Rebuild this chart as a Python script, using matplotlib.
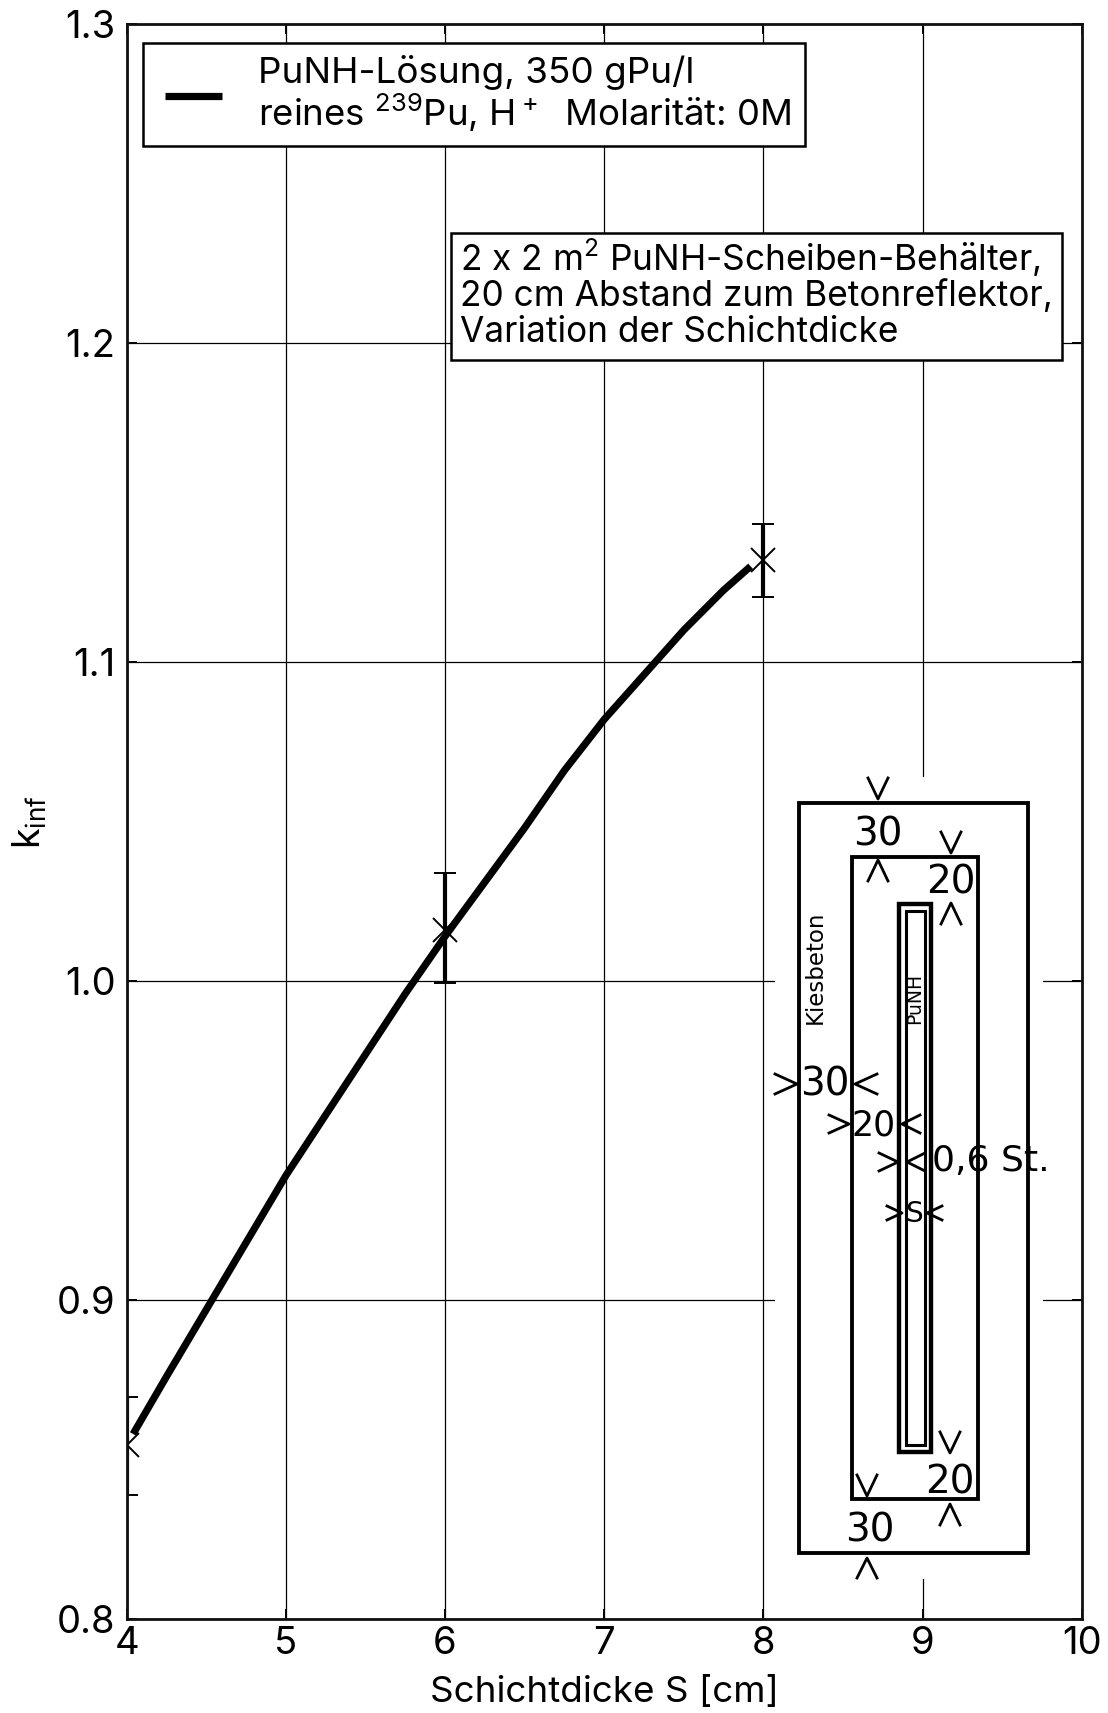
# k_inf ueber Schichtdicke, PuNH-Scheibenbehaelter
import matplotlib
matplotlib.use('Agg')
import matplotlib.pyplot as plt
from matplotlib.patches import Rectangle

plt.rcParams['font.family'] = ['Inter', 'Liberation Sans', 'DejaVu Sans']
plt.rcParams['mathtext.default'] = 'regular'
plt.rcParams['axes.unicode_minus'] = False

W, H = 1108, 1713
DPI = 100

# Kurve
curve_s = [4.04, 4.25, 4.5, 4.75, 5.0, 5.25, 5.5, 5.75, 6.0, 6.25, 6.5, 6.75, 7.0, 7.25, 7.5, 7.75, 7.92]
curve_k = [0.858, 0.876, 0.897, 0.918, 0.939, 0.958, 0.977, 0.996, 1.014, 1.031, 1.048, 1.066, 1.082, 1.096, 1.110, 1.1225, 1.130]

# Messpunkte mit Fehlerbalken
point_s = [4, 6, 8]
point_k = [0.8545, 1.016, 1.132]
point_low = [0.839, 0.9993, 1.1203]
point_high = [0.8696, 1.0339, 1.1432]

x_ticks = [4, 5, 6, 7, 8, 9, 10]
y_ticks = [0.8, 0.9, 1.0, 1.1, 1.2, 1.3]

# Skizze (Pixel): x0, y0, x1, y1, Linienbreite
sketch_boxes = [
    (798.5, 803, 1028, 1553, 3.5),
    (851.5, 857, 978, 1499, 3.5),
    (899, 904, 931, 1452, 4.0),
    (906, 911, 925, 1445, 2.8),
]
# Pfeile: Spitze x, Spitze y, Richtung, Laenge, halbe Breite
sketch_arrows = [
    (878, 799, 'v', 21, 10), (878, 860, '^', 21, 10),
    (951, 853, 'v', 21, 10), (951, 903, '^', 21, 10),
    (797, 1084, '>', 22, 10), (855, 1084, '<', 22, 10),
    (849, 1124, '>', 20, 9), (902, 1124, '<', 18, 9),
    (898, 1162, '>', 19, 9), (907, 1162, '<', 18, 9),
    (902, 1213, '>', 15, 7), (927, 1213, '<', 15, 7),
    (950, 1453, 'v', 21, 10), (950, 1504, '^', 21, 10),
    (867, 1496, 'v', 21, 10), (867, 1558, '^', 20, 10),
]
# Beschriftung: x, y, Text, Groesse
sketch_labels = [
    (878, 834, '30', 28), (951, 882, '20', 28),
    (825, 1085, '30', 28), (874, 1125, '20', 25),
    (914, 1214, 'S', 20), (950, 1482, '20', 28), (870, 1530, '30', 28),
]

fig = plt.figure(figsize=(W / DPI, H / DPI), dpi=DPI)
left, right, top, bottom = 126.7, 1081.7, 24.0, 1619.0
ax = fig.add_axes([left / W, 1 - bottom / H, (right - left) / W, (bottom - top) / H])

ax.plot(curve_s, curve_k, color='black', lw=5.2, solid_capstyle='butt')
yerr = [[k - l for k, l in zip(point_k, point_low)], [h - k for k, h in zip(point_k, point_high)]]
ax.errorbar(point_s, point_k, yerr=yerr, fmt='x', color='black', ms=17, mew=1.4,
            elinewidth=3.0, capsize=8, capthick=1.7)

ax.set_xlim(4, 10)
ax.set_ylim(0.8, 1.3)
ax.set_xticks(x_ticks)
ax.set_yticks(y_ticks)
ax.set_yticklabels(['%.1f' % v for v in y_ticks])
ax.grid(True, color='black', lw=0.9)
ax.set_axisbelow(True)
ax.tick_params(axis='both', direction='in', length=7, width=1.4, right=True, top=True, labelsize=27.5, pad=8)
ax.tick_params(axis='x', pad=5)
for s in ax.spines.values():
    s.set_linewidth(2.0)
    s.set_color('#111111')
ax.set_xlabel('Schichtdicke S [cm]', fontsize=26.5, labelpad=10)
ax.set_ylabel('k$_{inf}$', fontsize=27, labelpad=6)

# Overlay in Pixelkoordinaten fuer Kaesten und Skizze
ov = fig.add_axes([0, 0, 1, 1], facecolor='none')
ov.set_xlim(0, W)
ov.set_ylim(H, 0)
ov.axis('off')

# Legende
ov.add_patch(Rectangle((143, 43), 662, 103, fc='white', ec='black', lw=1.8))
ov.plot([165, 222], [96, 96], color='black', lw=5.2, solid_capstyle='butt')
ov.text(258, 73, 'PuNH-Lösung, 350 gPu/l', fontsize=26.5, ha='left', va='center')
ov.text(258, 113, 'reines $^{239}$Pu, H$^+$  Molarität: 0M', fontsize=26.3, ha='left', va='center')

# Beschreibung
ov.add_patch(Rectangle((451, 233), 611, 127, fc='white', ec='black', lw=1.8))
ov.text(460, 258, '2 x 2 m$^2$ PuNH-Scheiben-Behälter,', fontsize=25.4, ha='left', va='center')
ov.text(460, 296, '20 cm Abstand zum Betonreflektor,', fontsize=25.4, ha='left', va='center')
ov.text(460, 333, 'Variation der Schichtdicke', fontsize=25.4, ha='left', va='center')

# Skizze
ov.add_patch(Rectangle((775, 777), 268, 802, fc='white', ec='none'))
for x0, y0, x1, y1, lw in sketch_boxes:
    ov.add_patch(Rectangle((x0, y0), x1 - x0, y1 - y0, fc='none', ec='black', lw=lw * 0.72 * 1.1, joinstyle='miter'))
for x, y, d, ln, hw in sketch_arrows:
    if d == 'v':
        xs, ys = [x - hw, x, x + hw], [y - ln, y, y - ln]
    elif d == '^':
        xs, ys = [x - hw, x, x + hw], [y + ln, y, y + ln]
    elif d == '>':
        xs, ys = [x - ln, x, x - ln], [y - hw, y, y + hw]
    else:
        xs, ys = [x + ln, x, x + ln], [y - hw, y, y + hw]
    ov.plot(xs, ys, color='black', lw=2.0)
for x, y, t, fs in sketch_labels:
    ov.text(x, y, t, fontsize=fs, family='DejaVu Sans', ha='center', va='center')
ov.text(932, 1161, '0,6 St.', fontsize=26, family='DejaVu Sans', ha='left', va='center')
ov.text(815, 967, 'Kiesbeton', fontsize=16.5, family='DejaVu Sans', rotation=90, ha='center', va='center')
ov.text(915, 998, 'PuNH', fontsize=13.5, family='DejaVu Sans', rotation=90, ha='center', va='center')

fig.savefig('out.png', dpi=DPI)
